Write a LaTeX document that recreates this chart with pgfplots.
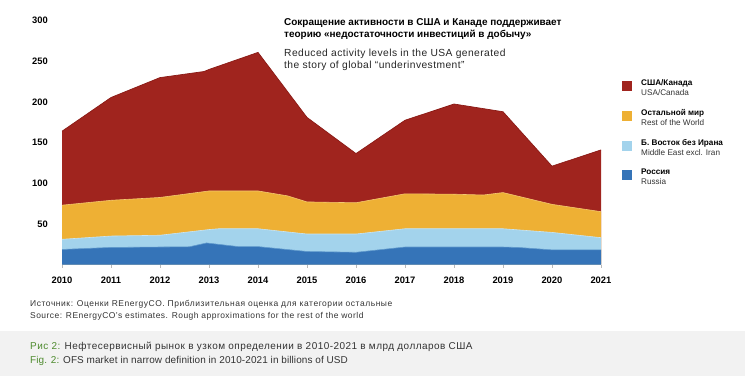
\documentclass[border=0pt]{standalone}
\usepackage{pgfplots}
\usepackage{pgfplotstable}
\pgfplotsset{compat=1.18}
\usepackage{fontspec}
\setmainfont{Liberation Sans}
\definecolor{cRed}{HTML}{A0241E}
\definecolor{cRedDark}{HTML}{8A1A15}
\definecolor{cOrange}{HTML}{EEB034}
\definecolor{cLight}{HTML}{A3D3EC}
\definecolor{cBlue}{HTML}{3574B8}
\definecolor{cGreen}{HTML}{4E8B2E}
\definecolor{cText}{HTML}{333333}
\definecolor{cBox}{HTML}{F2F2F2}

% cumulative tops of the stacked areas (bn USD)
\pgfplotstableread{
x y
2010 164
2011 205.5
2012 230
2012.9 237.5
2013 240
2014 261
2015 181
2016 136.5
2017 177.5
2018 197.5
2019 188
2020 121
2021 141
}\tTotal
\pgfplotstableread{
x y
2010 73
2011 79
2012 82.5
2013 90.5
2014 90.5
2014.6 84.5
2015 77
2016 76
2017 87
2018 86.5
2018.6 85.5
2019 88.5
2020 74
2021 65
}\tRest
\pgfplotstableread{
x y
2010 31
2011 35
2012 36
2013 43
2013.2 44
2014 44
2015 37.5
2016 37.5
2017 44
2018 44
2019 44
2020 39.5
2021 33
}\tME
\pgfplotstableread{
x y
2010 18.5
2011 21
2012 21.5
2012.6 21.8
2012.95 26.5
2013.6 22
2014 22
2015 16
2016 15
2017 21.5
2018 21.5
2019 21.5
2019.3 21
2020 18
2021 18
}\tRussia

\begin{document}
\begin{tikzpicture}
\path[use as bounding box] (0,0) rectangle (750bp,-381bp);
\fill[cBox] (0,-331bp) rectangle (745bp,-376bp);
\begin{axis}[
  at={(62bp,-264.5bp)}, anchor=south west,
  width=539bp, height=243.8bp, scale only axis,
  xmin=2010, xmax=2021, ymin=0, ymax=300,
  axis x line*=bottom, axis y line*=left,
  y axis line style={draw=none},
  x axis line style={draw=gray!55, line width=0.8pt, -},
  xtick={2010,...,2021}, ytick={50,100,...,300},
  /pgf/number format/assume math mode=true,
  /pgf/number format/1000 sep={},
  tick label style={font=\fontsize{9.4}{11}\selectfont\bfseries, text=black},
  ytick style={draw=none},
  xtick style={draw=gray!55, line width=0.8pt},
  tick align=outside, major tick length=3bp,
  yticklabel style={anchor=east, inner sep=0pt, xshift=-11bp},
  xticklabel style={anchor=base, inner sep=0pt, yshift=-15.5bp},
  clip=false,
]
\addplot[fill=cRed, draw=none] table {\tTotal} \closedcycle;
\addplot[draw=cRedDark, line width=0.7pt] table {\tTotal};
\addplot[fill=cOrange, draw=none] table {\tRest} \closedcycle;
\addplot[draw=cOrange!70!white, line width=0.6pt] table {\tRest};
\addplot[fill=cLight, draw=none] table {\tME} \closedcycle;
\addplot[draw=cLight!60!white, line width=0.6pt] table {\tME};
\addplot[fill=cBlue, draw=none] table {\tRussia} \closedcycle;
\addplot[draw=cBlue!60!cLight, line width=0.6pt] table {\tRussia};
\end{axis}

% title
\node[anchor=base west, inner sep=0pt, font=\fontsize{10}{12}\selectfont\bfseries] at (284bp,-25bp) {Сокращение активности в США и Канаде поддерживает};
\node[anchor=base west, inner sep=0pt, font=\fontsize{10}{12}\selectfont\bfseries] at (284bp,-37.5bp) {теорию «недостаточности инвестиций в добычу»};
\node[anchor=base west, inner sep=0pt, font=\fontsize{10.3}{12}\selectfont\addfontfeature{LetterSpace=4.2}, text=black!85] at (284bp,-56.5bp) {Reduced activity levels in the USA generated};
\node[anchor=base west, inner sep=0pt, font=\fontsize{10.3}{12}\selectfont\addfontfeature{LetterSpace=4.2}, text=black!85] at (284bp,-68.5bp) {the story of global “underinvestment”};

% legend
\fill[cRed] (622bp,-80.7bp) rectangle (632bp,-90.7bp);
\node[anchor=base west, inner sep=0pt, font=\fontsize{8.2}{10}\selectfont\bfseries] at (641bp,-85bp) {США/Канада};
\node[anchor=base west, inner sep=0pt, font=\fontsize{8.2}{10}\selectfont, text=cText] at (641bp,-95bp) {USA/Canada};
\fill[cOrange] (622bp,-110.7bp) rectangle (632bp,-120.7bp);
\node[anchor=base west, inner sep=0pt, font=\fontsize{8.2}{10}\selectfont\bfseries] at (641bp,-115bp) {Остальной мир};
\node[anchor=base west, inner sep=0pt, font=\fontsize{8.2}{10}\selectfont, text=cText] at (641bp,-125bp) {Rest of the World};
\fill[cLight] (622bp,-141bp) rectangle (632bp,-151bp);
\node[anchor=base west, inner sep=0pt, font=\fontsize{8.2}{10}\selectfont\bfseries] at (641bp,-145bp) {Б. Восток без Ирана};
\node[anchor=base west, inner sep=0pt, font=\fontsize{8.2}{10}\selectfont, text=cText] at (641bp,-155bp) {Middle East excl. Iran};
\fill[cBlue] (622bp,-170bp) rectangle (632bp,-180bp);
\node[anchor=base west, inner sep=0pt, font=\fontsize{8.2}{10}\selectfont\bfseries] at (641bp,-174bp) {Россия};
\node[anchor=base west, inner sep=0pt, font=\fontsize{8.2}{10}\selectfont, text=cText] at (641bp,-184bp) {Russia};

% source
\node[anchor=base west, inner sep=0pt, font=\fontsize{8.5}{10}\selectfont\addfontfeature{LetterSpace=6.5}, text=cText] at (30bp,-306.5bp) {Источник: Оценки REnergyCO. Приблизительная оценка для категории остальные};
\node[anchor=base west, inner sep=0pt, font=\fontsize{8.5}{10}\selectfont\addfontfeature{LetterSpace=5.6}, text=cText] at (30bp,-318.5bp) {Source: REnergyCO’s estimates. Rough approximations for the rest of the world};

% caption
\node[anchor=base west, inner sep=0pt, font=\fontsize{10}{12}\selectfont\addfontfeature{LetterSpace=4.8}, text=cText] at (30bp,-349.5bp) {\textcolor{cGreen}{Рис 2:} Нефтесервисный рынок в узком определении в 2010-2021 в млрд долларов США};
\node[anchor=base west, inner sep=0pt, font=\fontsize{10}{12}\selectfont\addfontfeature{LetterSpace=1}, text=cText] at (30bp,-363.5bp) {\textcolor{cGreen}{Fig. 2:} OFS market in narrow definition in 2010-2021 in billions of USD};
\end{tikzpicture}
\end{document}
